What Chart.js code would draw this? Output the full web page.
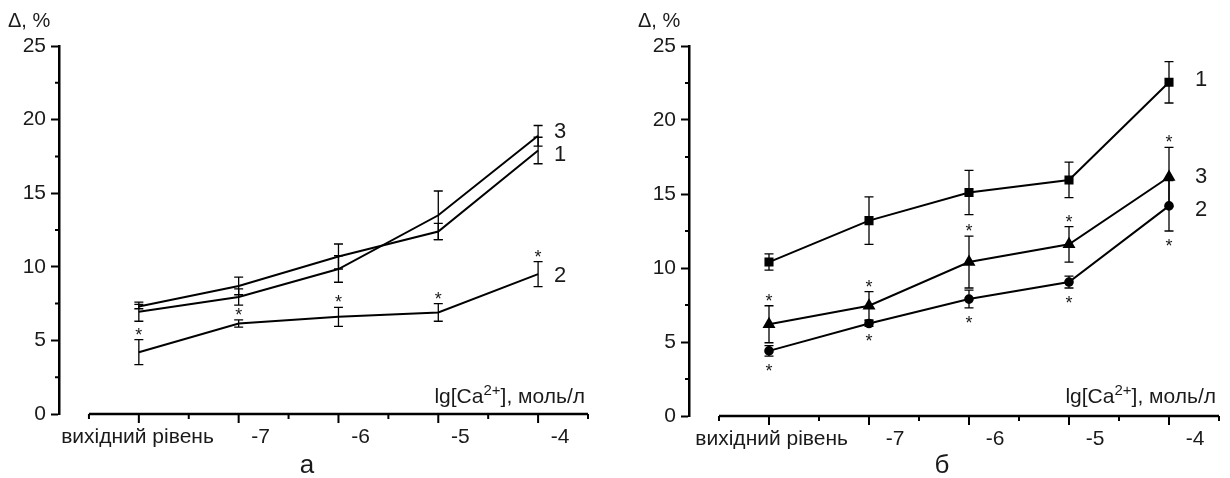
<!DOCTYPE html>
<html>
<head>
<meta charset="utf-8">
<script src="https://cdn.jsdelivr.net/npm/chart.js@4.4.0/dist/chart.umd.min.js"></script>
<style>
  html, body { margin: 0; padding: 0; background: #fff; }
  .panel { position: absolute; top: 0; width: 615px; height: 478px; }
  #panelA { left: 0; }
  #panelB { left: 615px; }
</style>
</head>
<body>
<div class="panel" id="panelA"><canvas id="chartA"></canvas></div>
<div class="panel" id="panelB"><canvas id="chartB"></canvas></div>
<script>
// категорії осі x та поділки
const categories = ['вихідний рівень', '-7', '-6', '-5', '-4'];
const yMajorStep = 5;
const yMinorTicks = [2.5, 7.5, 12.5, 17.5, 22.5];
const xMinorTicks = [-0.5, 0.5, 1.5, 2.5, 3.5, 4.5];

// панель а
const a1 = [7.3, 8.7, 10.7, 12.4, 17.9];
const a1Err = [0.15, 0.6, 0.85, 0.55, 0.9];
const a2 = [4.2, 6.15, 6.6, 6.9, 9.5];
const a2Err = [0.85, 0.25, 0.65, 0.6, 0.85];
const a2Sig = [true, true, true, true, true];
const a3 = [6.95, 7.95, 9.85, 13.5, 18.9];
const a3Err = [0.65, 0.55, 0.9, 1.65, 0.7];

// панель б
const b1 = [10.4, 13.2, 15.1, 15.95, 22.55];
const b1Err = [0.55, 1.6, 1.5, 1.2, 1.4];
const b2 = [4.4, 6.25, 7.9, 9.05, 14.2];
const b2Err = [0.35, 0.2, 0.6, 0.4, 1.7];
const b2Sig = [true, true, true, true, true];
const b3 = [6.2, 7.45, 10.4, 11.6, 16.15];
const b3Err = [1.25, 0.95, 1.75, 1.2, 2.0];
const b3Sig = [true, true, true, true, true];

const FONT = '"Liberation Sans", Arial, sans-serif';
const INK = '#1a1a1a';

function toPoints(values) {
    return values.map((v, i) => ({ x: i, y: v }));
}

function makeSeries(name, values, err, extra) {
    return Object.assign({
        label: name,
        data: toPoints(values),
        err: err,
        borderColor: '#000',
        backgroundColor: '#000',
        borderWidth: 2,
        pointRadius: 0,
        tension: 0
    }, extra || {});
}

// осі, похибки, зірочки, підписи
function decoPlugin(p) {
    return {
        id: 'deco',
        beforeDatasetsDraw(chart) {
            const ctx = chart.ctx, xs = chart.scales.x, ys = chart.scales.y;
            ctx.save();
            ctx.strokeStyle = '#000';
            ctx.lineWidth = 1.3;
            chart.data.datasets.forEach(ds => {
                ds.data.forEach((pt, i) => {
                    const e = ds.err[i];
                    const px = xs.getPixelForValue(pt.x);
                    const top = ys.getPixelForValue(pt.y + e);
                    const bot = ys.getPixelForValue(pt.y - e);
                    ctx.beginPath();
                    ctx.moveTo(px, top); ctx.lineTo(px, bot);
                    ctx.moveTo(px - 4.5, top); ctx.lineTo(px + 4.5, top);
                    ctx.moveTo(px - 4.5, bot); ctx.lineTo(px + 4.5, bot);
                    ctx.stroke();
                });
            });
            ctx.restore();
        },
        afterDraw(chart) {
            const ctx = chart.ctx, xs = chart.scales.x, ys = chart.scales.y;
            const y0 = ys.getPixelForValue(0);
            ctx.save();
            // вісь x
            ctx.strokeStyle = '#000';
            ctx.lineWidth = 2.5;
            ctx.beginPath();
            ctx.moveTo(xs.getPixelForValue(xMinorTicks[0]), y0);
            ctx.lineTo(xs.getPixelForValue(xMinorTicks[xMinorTicks.length - 1]), y0);
            ctx.stroke();
            ctx.lineWidth = 2;
            ctx.beginPath();
            categories.forEach((c, i) => {
                const px = xs.getPixelForValue(i);
                ctx.moveTo(px, y0); ctx.lineTo(px, y0 + 9);
            });
            xMinorTicks.forEach(v => {
                const px = xs.getPixelForValue(v);
                ctx.moveTo(px, y0); ctx.lineTo(px, y0 + 5);
            });
            // дрібні поділки y
            yMinorTicks.forEach(v => {
                const py = ys.getPixelForValue(v);
                ctx.moveTo(xs.left, py); ctx.lineTo(xs.left - 4, py);
            });
            ctx.stroke();

            // зірочки
            ctx.fillStyle = INK;
            ctx.font = '18px ' + FONT;
            ctx.textAlign = 'center';
            ctx.textBaseline = 'alphabetic';
            chart.data.datasets.forEach(ds => {
                if (!ds.sig) return;
                ds.sig.forEach((s, i) => {
                    if (!s) return;
                    const pt = ds.data[i];
                    const px = xs.getPixelForValue(pt.x);
                    let cy;
                    if (ds.sigSide === 'below') {
                        cy = ys.getPixelForValue(pt.y - ds.err[i]) + 11;
                    } else {
                        cy = ys.getPixelForValue(pt.y + ds.err[i]) - 9;
                    }
                    ctx.fillText('*', px, cy + 10);
                });
            });

            // номери кривих
            ctx.font = '22px ' + FONT;
            ctx.textAlign = 'left';
            ctx.textBaseline = 'middle';
            chart.data.datasets.forEach(ds => {
                const last = ds.data[ds.data.length - 1];
                ctx.fillText(ds.label, xs.getPixelForValue(last.x) + p.tagDx,
                    ys.getPixelForValue(last.y) + ds.tagDy);
            });

            // назва осі y
            ctx.font = '20px ' + FONT;
            ctx.textBaseline = 'alphabetic';
            ctx.fillText('\u0394, %', xs.left - 51, 27);

            // назва осі x
            const big = '21px ' + FONT, small = '15px ' + FONT;
            const parts = [['lg[Ca', big, 0], ['2+', small, -8], ['], моль/л', big, 0]];
            let w = 0;
            parts.forEach(pr => { ctx.font = pr[1]; w += ctx.measureText(pr[0]).width; });
            let tx = xs.right - 3 - w;
            parts.forEach(pr => {
                ctx.font = pr[1];
                ctx.fillText(pr[0], tx, 403 + pr[2]);
                tx += ctx.measureText(pr[0]).width;
            });

            // літера панелі
            ctx.font = '26px ' + FONT;
            ctx.textAlign = 'center';
            ctx.fillText(p.letter, p.letterX, 473);
            ctx.restore();
        }
    };
}

function makePanel(canvasId, p, datasets) {
    const pad = ' '.repeat(8);
    return new Chart(document.getElementById(canvasId), {
        type: 'line',
        data: { datasets: datasets },
        options: {
            responsive: true,
            maintainAspectRatio: false,
            animation: false,
            layout: { padding: { left: 0, top: 46, right: p.padRight, bottom: 0 } },
            plugins: { legend: { display: false }, tooltip: { enabled: false } },
            scales: {
                x: {
                    type: 'linear',
                    min: -0.8,
                    max: 4.5,
                    afterBuildTicks: scale => { scale.ticks = categories.map((c, i) => ({ value: i })); },
                    afterFit: scale => { scale.height = 478 - p.axisBottom; },
                    grid: { display: false, drawTicks: false },
                    border: { display: false },
                    ticks: {
                        autoSkip: false,
                        maxRotation: 0,
                        padding: 11,
                        labelOffset: p.labelOffset,
                        color: INK,
                        font: { family: FONT, size: 21 },
                        callback: v => (v === 0 ? categories[0] + pad : categories[v])
                    }
                },
                y: {
                    min: 0,
                    max: 25,
                    afterFit: scale => { scale.width = p.axisLeft; },
                    border: { display: true, color: '#000', width: 2.5 },
                    grid: { drawOnChartArea: false, tickLength: 8, tickWidth: 2, tickColor: '#000' },
                    ticks: {
                        stepSize: yMajorStep,
                        padding: 5,
                        color: INK,
                        font: { family: FONT, size: 21 }
                    }
                }
            }
        },
        plugins: [decoPlugin(p)]
    });
}

makePanel('chartA',
    { axisLeft: 59, axisBottom: 414, padRight: 27, labelOffset: 22, tagDx: 16, letter: 'а', letterX: 307 },
    [
        makeSeries('1', a1, a1Err, { tagDy: 4 }),
        makeSeries('2', a2, a2Err, { tagDy: 2, sig: a2Sig, sigSide: 'above' }),
        makeSeries('3', a3, a3Err, { tagDy: -4 })
    ]);

makePanel('chartB',
    { axisLeft: 74, axisBottom: 416, padRight: 11, labelOffset: 26, tagDx: 26, letter: 'б', letterX: 327 },
    [
        makeSeries('1', b1, b1Err, { tagDy: -2, pointRadius: 5, pointStyle: 'rect' }),
        makeSeries('2', b2, b2Err, { tagDy: 4, pointRadius: 3.8, pointStyle: 'circle', sig: b2Sig, sigSide: 'below' }),
        makeSeries('3', b3, b3Err, { tagDy: 0, pointRadius: 5.5, pointStyle: 'triangle', sig: b3Sig, sigSide: 'above' })
    ]);
</script>
</body>
</html>
